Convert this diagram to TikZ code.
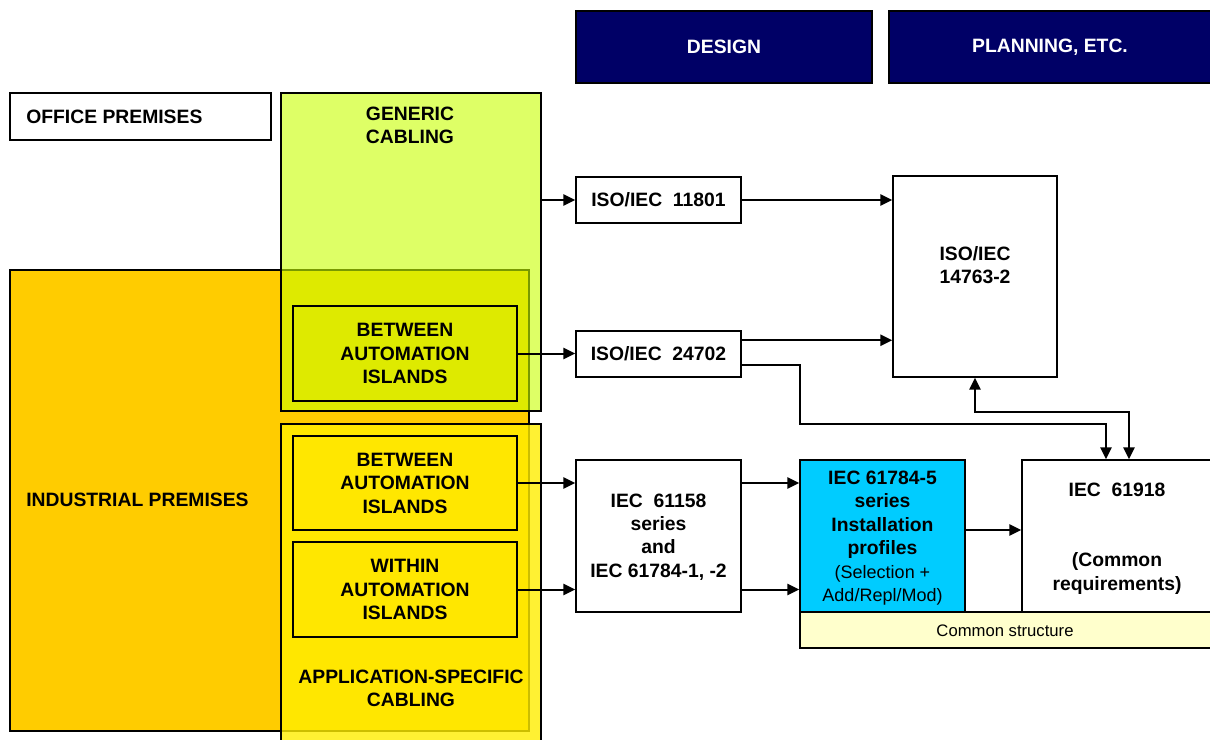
\documentclass[tikz,border=0pt]{standalone}
\usepackage{fontspec}
\setmainfont{Liberation Sans}
\usetikzlibrary{arrows.meta,fit,calc}
\definecolor{navy}{HTML}{000066}
\definecolor{orangeprem}{HTML}{FFCC00}
\definecolor{greencab}{RGB}{200,255,0}
\definecolor{yellowcab}{RGB}{255,238,0}
\definecolor{cyanbox}{HTML}{00CCFF}
\definecolor{paleyellow}{HTML}{FFFFCC}
\begin{document}
\begin{tikzpicture}[x=0.75pt,y=-0.75pt,
  box/.style={draw=black, line width=1.1pt, inner sep=0pt},
  thinbox/.style={draw=black, line width=0.8pt, inner sep=0pt},
  lbl/.style={font=\fontsize{14.5}{17.6}\selectfont\bfseries, align=center, inner sep=0pt},
  small/.style={font=\fontsize{12.5}{15}\selectfont, align=center, inner sep=0pt},
  arr/.style={line width=1.5pt, -{Triangle[length=9pt,width=8.5pt]}},
  darr/.style={line width=1.5pt, {Triangle[length=9pt,width=8.5pt]}-{Triangle[length=9pt,width=8.5pt]}}]
\useasboundingbox (0,0) rectangle (1210,739);
\clip (0,0) rectangle (1210,739);
\fill[white] (0,0) rectangle (1210,739);

% header boxes
\node[box, fill=navy, fit={(576,11)(872,83)}] (design) {};
\node[lbl, text=white] (designt) at (724,47) {DESIGN};
\node[box, fill=navy, fit={(889,11)(1225,83)}] (planning) {};
\node[lbl, text=white] (planningt) at (1050,47) {PLANNING, ETC.};

% premises
\node[box, fill=white, fit={(10,93)(271,140)}] (office) {};
\node[lbl, anchor=west] (officet) at (26,117) {OFFICE PREMISES};
\node[thinbox, fill=orangeprem, fit={(10,270)(529,731)}] (industrial) {};
\node[lbl, anchor=west] (industrialt) at (26,500) {INDUSTRIAL PREMISES};

% cabling regions
\node[thinbox, fill=greencab, fill opacity=0.6, fit={(281,93)(541,411)}] (generic) {};
\node[lbl] (generict) at (410,125.5) {GENERIC\\CABLING};
\node[thinbox, fill=yellowcab, fill opacity=0.8, fit={(281,424)(541,760)}] (appspec) {};
\node[lbl] (appspect) at (411,688.5) {APPLICATION-SPECIFIC\\CABLING};

% inner boxes
\node[thinbox, fit={(293,306)(517,401)}] (between1) {};
\node[lbl] (between1t) at (405,353.5) {BETWEEN\\AUTOMATION\\ISLANDS};
\node[thinbox, fit={(293,436)(517,530)}] (between2) {};
\node[lbl] (between2t) at (405,483) {BETWEEN\\AUTOMATION\\ISLANDS};
\node[thinbox, fit={(293,542)(517,637)}] (within) {};
\node[lbl] (withint) at (405,589.5) {WITHIN\\AUTOMATION\\ISLANDS};

% standards boxes
\node[box, fill=white, fit={(576,177)(741,223)}] (iso11801) {};
\node[lbl] (iso11801t) at (658.5,200) {ISO/IEC\ \ 11801};
\node[box, fill=white, fit={(576,331)(741,377)}] (iso24702) {};
\node[lbl] (iso24702t) at (658.5,354) {ISO/IEC\ \ 24702};
\node[box, fill=white, fit={(893,176)(1057,377)}] (iso14763) {};
\node[lbl] (iso14763t) at (975,265) {ISO/IEC\\14763-2};
\node[box, fill=white, fit={(576,460)(741,612)}] (iec61158) {};
\node[lbl] (iec61158t) at (658.5,537) {IEC\ \ 61158\\series\\and\\IEC 61784-1, -2};
\node[box, fill=cyanbox, fit={(800,460)(965,612)}] (iec61784) {};
\node[lbl] (iec61784t) at (882.5,538) {IEC 61784-5\\series\\Installation\\profiles\\
  \mdseries\fontsize{13.5}{17.6}\selectfont (Selection +\\
  \mdseries\fontsize{13.5}{17.6}\selectfont Add/Repl/Mod)};
\node[box, fill=white, fit={(1022,460)(1225,612)}] (iec61918) {};
\node[lbl] (iec61918t) at (1117,490) {IEC\ \ 61918};
\node[lbl] (iec61918c) at (1117,573.5) {(Common\\requirements)};
\node[thinbox, fill=paleyellow, fit={(800,612)(1225,648)}] (common) {};
\node[small] (commont) at (1005,631) {Common structure};

% connectors
\draw[arr] (iso11801.west -| generic.east) -- (iso11801.west);
\draw[arr] (iso11801.east) -- (iso11801.east -| iso14763.west);
\draw[arr] (between1.east) -- (between1.east -| iso24702.west);
\coordinate (a1) at ($(iso24702.north east)+(0,10)$);
\draw[arr] (a1) -- (a1 -| iso14763.west);
\coordinate (a2) at ($(iso24702.south east)+(0,-13)$);
\coordinate (b1) at (800,424);
\coordinate (b2) at (1106,424);
\draw[arr] (a2) -| (b1) -- (b2) -- (b2 |- iec61918.north);
\coordinate (c1) at (1129,412);
\draw[darr] (iso14763.south) -- (iso14763.south |- c1) -- (c1) -- (c1 |- iec61918.north);
\draw[arr] (between2.east) -- (between2.east -| iec61158.west);
\draw[arr] (within.east) -- (within.east -| iec61158.west);
\draw[arr] (between2.east -| iec61158.east) -- (between2.east -| iec61784.west);
\draw[arr] (within.east -| iec61158.east) -- (within.east -| iec61784.west);
\coordinate (d1) at ($(iec61784.east)+(0,-6)$);
\draw[arr] (d1) -- (d1 -| iec61918.west);
\end{tikzpicture}
\end{document}
